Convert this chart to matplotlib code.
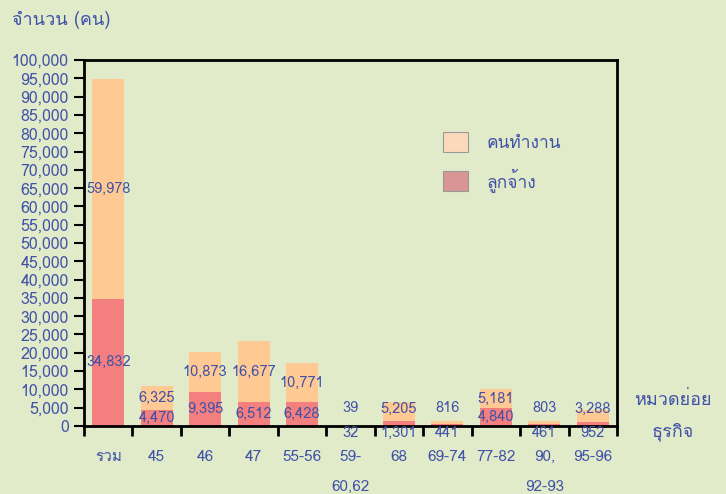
import matplotlib
matplotlib.use('Agg')
import matplotlib.pyplot as plt
from matplotlib import font_manager
from matplotlib.patches import Patch
import numpy as np
from fontTools.ttLib import TTFont

# data
categories = ['รวม', '45', '46', '47', '55-56', '59-\n60,62', '68', '69-74', '77-82', '90,\n92-93', '95-96']
employees = [34832, 4470, 9395, 6512, 6428, 32, 1301, 441, 4840, 461, 952]      # ลูกจ้าง
workers = [59978, 6325, 10873, 16677, 10771, 39, 5205, 816, 5181, 803, 3288]    # คนทำงาน
yticks = list(range(0, 100001, 5000))

BG = '#E1EBCA'
BLUE = '#4052A8'
ORANGE = '#FFC993'
RED = '#F47F7F'


def find_thai_font():
    seen = set()
    for fe in font_manager.fontManager.ttflist:
        if fe.fname in seen:
            continue
        seen.add(fe.fname)
        try:
            tt = TTFont(fe.fname, fontNumber=0, lazy=True)
            cmap = tt.getBestCmap() or {}
            if 0x0E01 in cmap and 0x0E33 in cmap:
                return fe.name
        except Exception:
            continue
    return None


thai = find_thai_font()
fams = [thai, 'DejaVu Sans'] if thai else ['DejaVu Sans']
plt.rcParams['font.family'] = fams

fig = plt.figure(figsize=(7.26, 4.94), dpi=100, facecolor=BG)
ax = fig.add_axes([0.1157, 0.1377, 0.7343, 0.7408])
ax.set_facecolor(BG)

x = np.arange(len(categories))
ax.bar(x, employees, 0.66, color=RED, zorder=2)
ax.bar(x, workers, 0.66, bottom=employees, color=ORANGE, zorder=2)

# value labels (small segments pushed above / below the axis)
for xi, e, w in zip(x, employees, workers):
    ye = e / 2 if e > 2000 else -2000
    yw = max(e + w / 2, 4800)
    ax.text(xi, ye, f'{e:,}', ha='center', va='center', fontsize=10.5, color=BLUE, zorder=3)
    ax.text(xi, yw, f'{w:,}', ha='center', va='center', fontsize=10.5, color=BLUE, zorder=3)

ax.set_xlim(-0.5, len(categories) - 0.5)
ax.set_ylim(0, 100000)
ax.set_yticks(yticks)
ax.set_yticklabels([f'{v:,}' for v in yticks], fontsize=11.5, color=BLUE)
ax.tick_params(axis='y', direction='out', length=7, width=1.5, color='black', pad=4)

ax.set_xticks(x)
ax.set_xticklabels(categories, fontsize=11, color=BLUE, linespacing=2.5, va='top')
ax.tick_params(axis='x', which='major', length=0, pad=17)
ax.set_xticks(np.arange(len(categories) + 1) - 0.5, minor=True)
ax.tick_params(axis='x', which='minor', direction='out', length=7, width=2, color='black')

for s in ax.spines.values():
    s.set_color('black')
    s.set_linewidth(2)

handles = [Patch(facecolor='#FDD9BC', edgecolor='#999999', lw=0.8),
           Patch(facecolor='#D99594', edgecolor='#999999', lw=0.8)]
ax.legend(handles, ['คนทำงาน', 'ลูกจ้าง'], loc='upper left', bbox_to_anchor=(0.645, 0.845),
          frameon=False, fontsize=12.5, labelcolor=BLUE, handlelength=1.4, handleheight=1.4,
          labelspacing=0.9, handletextpad=1.1)

fig.text(12 / 726, 1 - 20 / 494, 'จำนวน (คน)', fontsize=13, color=BLUE, ha='left', va='center')
fig.text(673 / 726, 1 - 400 / 494, 'หมวดย่อย', fontsize=13, color=BLUE, ha='center', va='center')
fig.text(673 / 726, 1 - 432 / 494, 'ธุรกิจ', fontsize=13, color=BLUE, ha='center', va='center')

fig.savefig('out.png', dpi=100, facecolor=BG)
plt.close()
